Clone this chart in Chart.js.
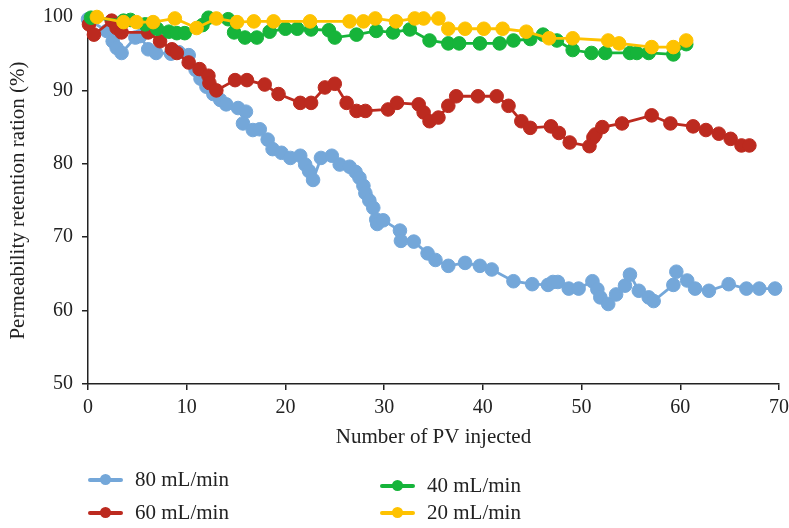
<!DOCTYPE html>
<html>
<head>
<meta charset="utf-8">
<script src="https://cdn.jsdelivr.net/npm/chart.js@4.4.1/dist/chart.umd.min.js"></script>
<style>
  html, body { margin: 0; padding: 0; background: #fff; }
  #wrap { position: relative; width: 789px; height: 528px; }
  canvas { position: absolute; left: 0; top: 0; }
  .lg { position: absolute; height: 26px; font-family: "Liberation Serif", "DejaVu Serif", serif; font-size: 21px; color: #222; white-space: nowrap; }
  .lg .sym { position: absolute; left: 0; top: 11px; width: 35px; height: 3.5px; border-radius: 2px; }
  .lg .dot { position: absolute; left: 12px; top: 7px; width: 11px; height: 11px; border-radius: 50%; }
  .lg .txt { position: absolute; left: 47px; top: 0px; line-height: 25px; }
</style>
</head>
<body>
<div id="wrap">
  <canvas id="c" width="789" height="528"></canvas>
</div>
<script>
// ---- data (x = number of PV injected, y = permeability retention ratio %) ----
const seriesNames = ["80 mL/min", "60 mL/min", "40 mL/min", "20 mL/min"];
const seriesColors = ["#74A7D9", "#BC2A1F", "#16B43A", "#FEC200"];

const xTicks = [0, 10, 20, 30, 40, 50, 60, 70];
const yTicks = [50, 60, 70, 80, 90, 100];

const pv80 = [0,1.9,2.5,2.9,3.4,4.8,5.3,6.1,6.9,8.4,9.2,10.2,10.9,11.4,12.0,12.7,13.4,14.0,15.2,16.0,15.7,16.7,17.4,18.2,18.7,19.6,20.5,21.5,22.0,22.4,22.8,23.6,24.7,25.5,26.5,27.1,27.5,27.9,28.1,28.5,28.9,29.2,29.3,29.9,31.6,31.7,33.0,34.4,35.2,36.5,38.2,39.7,40.9,43.1,45.0,46.6,47.1,47.6,48.7,49.7,51.1,51.6,51.9,52.7,53.5,54.4,54.9,55.8,56.8,57.3,59.3,59.6,60.7,61.5,62.9,64.9,66.7,68.0,69.6];
const ret80 = [99.7,98.1,96.7,95.8,95.1,97.2,97.4,95.6,95.1,95.0,95.2,94.8,92.8,91.6,90.5,89.5,88.7,88.1,87.6,87.1,85.5,84.6,84.7,83.3,82.0,81.5,80.8,81.1,79.9,79.0,77.8,80.8,81.1,79.9,79.6,78.9,78.1,77.0,76.0,75.0,74.0,72.4,71.8,72.3,70.9,69.5,69.4,67.8,66.9,66.1,66.5,66.1,65.6,64.0,63.6,63.5,63.9,63.9,63.0,63.0,64.0,62.9,61.8,60.9,62.2,63.4,64.9,62.7,61.8,61.3,63.5,65.3,64.1,63.0,62.7,63.6,63.0,63.0,63.0];

const pv60 = [0.1,0.6,2.4,2.9,3.4,6.1,7.3,8.5,9.0,10.2,11.3,12.2,12.3,13.0,14.9,16.1,17.9,19.3,21.5,22.6,24.0,25.0,26.2,27.2,28.1,30.4,31.3,33.5,34.0,34.6,35.5,36.5,37.3,39.5,41.4,42.6,43.9,44.8,46.9,47.7,48.8,50.8,51.2,51.4,52.1,54.1,57.1,59.0,61.3,62.6,63.9,65.1,66.2,67.0];
const ret60 = [99.0,97.6,99.5,98.5,97.9,97.9,96.7,95.6,95.1,93.8,92.9,92.0,91.0,90.0,91.4,91.4,90.8,89.5,88.3,88.3,90.4,90.9,88.3,87.2,87.2,87.4,88.3,88.1,87.0,85.8,86.3,87.9,89.2,89.2,89.2,87.9,85.8,84.9,85.1,84.2,82.9,82.4,83.6,84.0,85.0,85.5,86.6,85.5,85.1,84.6,84.1,83.4,82.5,82.5];

const pv40 = [0.3,3.6,4.3,5.8,7.0,8.2,9.0,9.8,11.6,12.2,14.2,14.8,15.9,17.1,18.4,20.0,21.2,22.6,24.4,25.0,27.2,29.2,30.9,32.6,34.6,36.5,37.6,39.7,41.7,43.1,44.8,46.1,47.5,49.1,51.0,52.4,54.9,55.6,56.8,59.3,60.6];
const ret40 = [99.9,99.5,99.6,99.0,98.4,98.0,97.8,97.8,98.9,99.9,99.7,97.9,97.2,97.2,98.0,98.4,98.4,98.3,98.2,97.2,97.6,98.1,97.9,98.3,96.8,96.4,96.4,96.4,96.4,96.8,97.0,97.6,96.8,95.5,95.1,95.1,95.1,95.1,95.1,94.9,96.3];

const pv20 = [0.9,3.6,4.9,6.6,8.8,11.0,13.0,15.1,16.8,18.8,22.5,26.5,27.9,29.1,31.2,33.1,34.0,35.5,36.5,38.2,40.1,42.0,44.4,46.7,49.1,52.7,53.8,57.1,59.3,60.6];
const ret20 = [100.0,99.3,99.3,99.3,99.8,98.5,99.8,99.3,99.4,99.4,99.4,99.4,99.4,99.8,99.4,99.8,99.8,99.8,98.4,98.4,98.4,98.4,98.0,97.1,97.1,96.8,96.4,95.9,95.9,96.8];

const xTitle = "Number of PV injected";
const yTitle = "Permeability retention ration (%)";

// ---- build ----
function pts(xs, ys) { return xs.map((x, i) => ({ x: x, y: ys[i] })); }
const allX = [pv80, pv60, pv40, pv20];
const allY = [ret80, ret60, ret40, ret20];
const drawOrder = [4, 3, 2, 1]; // 20 mL/min drawn on top

const FONT = "'Liberation Serif', 'DejaVu Serif', serif";
const datasets = seriesNames.map((n, i) => ({
  label: n,
  data: pts(allX[i], allY[i]),
  showLine: true,
  clip: false,
  borderColor: seriesColors[i],
  backgroundColor: seriesColors[i],
  pointBackgroundColor: seriesColors[i],
  pointBorderColor: seriesColors[i],
  borderWidth: 2.8,
  pointRadius: 6.8,
  pointBorderWidth: 1,
  order: drawOrder[i]
}));

new Chart(document.getElementById('c'), {
  type: 'scatter',
  data: { datasets: datasets },
  options: {
    responsive: false,
    animation: false,
    layout: { padding: { top: 17, left: 0, right: 10, bottom: 74 } },
    plugins: { legend: { display: false }, tooltip: { enabled: false } },
    scales: {
      x: {
        type: 'linear', min: 0, max: 70,
        afterBuildTicks: (s) => { s.ticks = xTicks.map(v => ({ value: v })); },
        afterFit: (s) => { s.height = 70; s.paddingLeft = 0; s.paddingRight = 0; },
        grid: { drawOnChartArea: false, drawTicks: true, tickLength: 6, color: '#222', lineWidth: 1.5 },
        border: { display: true, color: '#222', width: 1.5 },
        ticks: { color: '#222', padding: 6, font: { family: FONT, size: 20 } },
        title: { display: true, text: xTitle, color: '#222', padding: { top: 4, bottom: 4 }, font: { family: FONT, size: 21 } }
      },
      y: {
        type: 'linear', min: 50, max: 100,
        afterBuildTicks: (s) => { s.ticks = yTicks.map(v => ({ value: v })); },
        afterFit: (s) => { s.width = 88; s.paddingTop = 0; s.paddingBottom = 0; },
        grid: { drawOnChartArea: false, drawTicks: true, tickLength: 6, color: '#222', lineWidth: 1.5 },
        border: { display: true, color: '#222', width: 1.5 },
        ticks: { color: '#222', padding: 9, font: { family: FONT, size: 20 } },
        title: { display: true, text: yTitle, color: '#222', padding: { top: 6, bottom: 4 }, font: { family: FONT, size: 21 } }
      }
    }
  }
});

// ---- HTML legend ----
const legendPos = [[88, 467], [88, 500], [380, 473], [380, 500]];
const wrap = document.getElementById('wrap');
seriesNames.forEach((n, i) => {
  const d = document.createElement('div');
  d.className = 'lg';
  d.style.left = legendPos[i][0] + 'px';
  d.style.top = legendPos[i][1] + 'px';
  d.innerHTML = '<div class="sym" style="background:' + seriesColors[i] + '"></div>' +
                '<div class="dot" style="background:' + seriesColors[i] + '"></div>' +
                '<div class="txt"></div>';
  d.querySelector('.txt').textContent = n;
  wrap.appendChild(d);
});
</script>
</body>
</html>
